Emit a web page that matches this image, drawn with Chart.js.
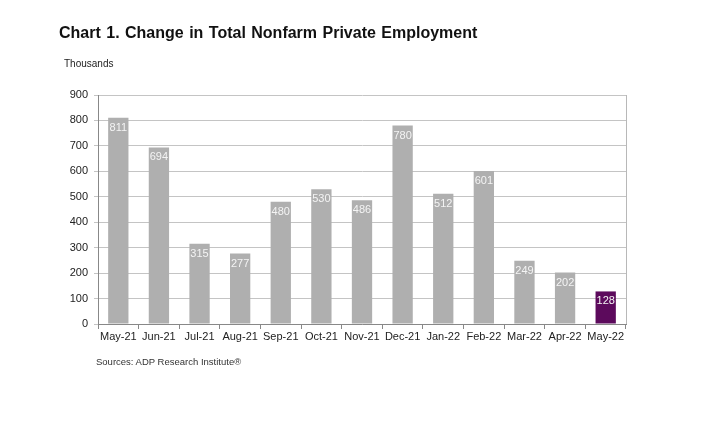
<!DOCTYPE html>
<html>
<head>
<meta charset="utf-8">
<script src="https://cdn.jsdelivr.net/npm/chart.js@4"></script>
<style>
  body { margin: 0; background: #fff; font-family: "Liberation Sans", Arial, sans-serif; }
  #wrap { position: relative; width: 712px; height: 446px; }
  #title { position: absolute; left: 59px; top: 24px; font-size: 16px; font-weight: bold; color: #111; word-spacing: 1px; }
  #unit { position: absolute; left: 64px; top: 58px; font-size: 10px; color: #222; }
  #src { position: absolute; left: 96px; top: 356px; font-size: 9.5px; color: #333; }
</style>
</head>
<body>
<div id="wrap">
  <canvas id="chart" width="712" height="446"></canvas>
  <div id="title">Chart 1. Change in Total Nonfarm Private Employment</div>
  <div id="unit">Thousands</div>
  <div id="src">Sources: ADP Research Institute®</div>
</div>
<script>
// data
var months = ['May-21', 'Jun-21', 'Jul-21', 'Aug-21', 'Sep-21', 'Oct-21', 'Nov-21',
              'Dec-21', 'Jan-22', 'Feb-22', 'Mar-22', 'Apr-22', 'May-22'];
var jobs = [811, 694, 315, 277, 480, 530, 486, 780, 512, 601, 249, 202, 128];
var yTicks = [0, 100, 200, 300, 400, 500, 600, 700, 800, 900];

var barColors = jobs.map(function(v, i) {
    return i === jobs.length - 1 ? '#5c0a5c' : '#afafaf';
});

// value labels inside the bars + right border of plot area
var labelPlugin = {
    id: 'labels',
    afterDatasetsDraw: function(chart) {
        var ctx = chart.ctx;
        var meta = chart.getDatasetMeta(0);
        ctx.save();
        ctx.font = '11px "Liberation Sans", Arial, sans-serif';
        ctx.fillStyle = '#f4f4f4';
        ctx.textAlign = 'center';
        ctx.textBaseline = 'middle';
        meta.data.forEach(function(bar, i) {
            ctx.fillText(String(jobs[i]), bar.x, bar.y + 10);
        });
        var a = chart.chartArea;
        ctx.strokeStyle = '#b8b8b8';
        ctx.lineWidth = 1;
        ctx.beginPath();
        ctx.moveTo(a.right + 0.5, a.top);
        ctx.lineTo(a.right + 0.5, a.bottom);
        ctx.stroke();
        ctx.restore();
    }
};

new Chart(document.getElementById('chart'), {
    type: 'bar',
    data: {
        labels: months,
        datasets: [{
            data: jobs,
            backgroundColor: barColors,
            borderWidth: 0,
            barPercentage: 0.5,
            categoryPercentage: 1
        }]
    },
    options: {
        responsive: false,
        animation: false,
        layout: { padding: { top: 95, right: 86, bottom: 92, left: 0 } },
        plugins: {
            legend: { display: false },
            tooltip: { enabled: false }
        },
        scales: {
            x: {
                afterFit: function(s) { s.height = 30; },
                grid: {
                    offset: true,
                    drawOnChartArea: false,
                    tickLength: 5,
                    color: '#888'
                },
                border: { color: '#888' },
                ticks: {
                    color: '#222',
                    font: { size: 11, family: '"Liberation Sans", Arial, sans-serif' },
                    maxRotation: 0,
                    padding: 1
                }
            },
            y: {
                min: 0,
                max: 900,
                afterFit: function(s) { s.width = 98; },
                afterBuildTicks: function(s) {
                    s.ticks = yTicks.map(function(v) { return { value: v }; });
                },
                grid: { color: '#c4c4c4', tickLength: 4 },
                border: { color: '#888' },
                ticks: {
                    color: '#222',
                    font: { size: 11, family: '"Liberation Sans", Arial, sans-serif' },
                    padding: 6
                }
            }
        }
    },
    plugins: [labelPlugin]
});
</script>
</body>
</html>
